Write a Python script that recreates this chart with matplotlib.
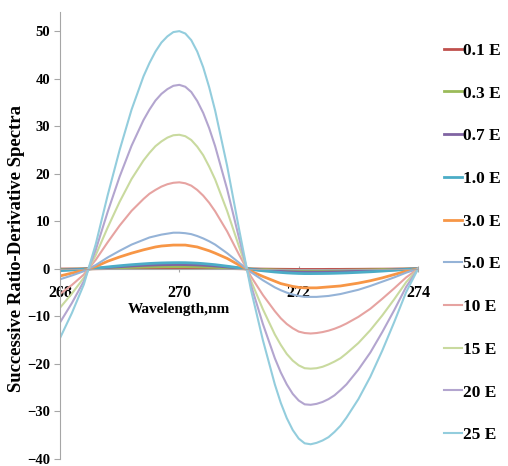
import matplotlib
matplotlib.use('Agg')
import matplotlib.pyplot as plt

# wavelengths (nm), denser around the extremes
wavelength = [268.0, 268.2, 268.4, 268.6, 268.8, 269.0, 269.2, 269.4,
              269.5, 269.6, 269.7, 269.8, 269.9, 270.0,
              270.1, 270.2, 270.3, 270.4, 270.5, 270.6,
              270.8, 271.0,
              271.2, 271.4, 271.6,
              271.7, 271.8, 271.9, 272.0, 272.1, 272.2, 272.3, 272.4, 272.5, 272.6, 272.7, 272.8,
              273.0, 273.2, 273.4, 273.6, 273.8, 274.0]

e_01 = [-0.04, -0.03, -0.01, 0.02, 0.05, 0.08, 0.10, 0.12,
        0.13, 0.14, 0.14, 0.15, 0.15, 0.15,
        0.15, 0.14, 0.14, 0.13, 0.11, 0.10,
        0.07, 0.03,
        -0.01, -0.05, -0.08,
        -0.09, -0.10, -0.11, -0.12, -0.12, -0.12, -0.12, -0.12, -0.11, -0.11, -0.11, -0.10,
        -0.09, -0.07, -0.06, -0.04, -0.02, 0.0]
e_03 = [-0.13, -0.08, -0.03, 0.05, 0.14, 0.23, 0.30, 0.36,
        0.39, 0.41, 0.43, 0.44, 0.45, 0.45,
        0.45, 0.43, 0.41, 0.38, 0.34, 0.30,
        0.20, 0.08,
        -0.04, -0.14, -0.23,
        -0.27, -0.30, -0.32, -0.34, -0.35, -0.35, -0.35, -0.34, -0.34, -0.33, -0.31, -0.30,
        -0.26, -0.22, -0.16, -0.11, -0.05, 0.0]
e_07 = [-0.26, -0.17, -0.06, 0.09, 0.28, 0.45, 0.60, 0.73,
        0.78, 0.82, 0.86, 0.88, 0.90, 0.90,
        0.89, 0.86, 0.82, 0.76, 0.69, 0.60,
        0.39, 0.15,
        -0.08, -0.28, -0.46,
        -0.53, -0.60, -0.64, -0.68, -0.70, -0.70, -0.70, -0.69, -0.67, -0.65, -0.63, -0.59,
        -0.52, -0.43, -0.33, -0.21, -0.09, 0.0]
e_10 = [-0.38, -0.24, -0.09, 0.14, 0.40, 0.65, 0.87, 1.05,
        1.13, 1.19, 1.24, 1.27, 1.29, 1.30,
        1.29, 1.25, 1.19, 1.10, 0.99, 0.87,
        0.56, 0.22,
        -0.12, -0.41, -0.66,
        -0.76, -0.85, -0.92, -0.97, -1.00, -1.00, -0.99, -0.98, -0.96, -0.93, -0.89, -0.85,
        -0.74, -0.62, -0.47, -0.30, -0.13, 0.0]
e_30 = [-1.5, -0.9, -0.3, 0.5, 1.6, 2.5, 3.3, 4.0,
        4.3, 4.6, 4.8, 4.9, 5.0, 5.0,
        5.0, 4.8, 4.6, 4.2, 3.8, 3.3,
        2.2, 0.8,
        -0.5, -1.6, -2.6,
        -3.1, -3.4, -3.7, -3.9, -4.0, -4.0, -4.0, -3.9, -3.8, -3.7, -3.6, -3.4,
        -3.0, -2.5, -1.9, -1.2, -0.5, 0.0]
e_50 = [-2.2, -1.4, -0.5, 0.8, 2.4, 3.8, 5.1, 6.1,
        6.6, 6.9, 7.2, 7.4, 7.6, 7.6,
        7.5, 7.3, 6.9, 6.4, 5.8, 5.1,
        3.3, 1.3,
        -0.7, -2.4, -3.9,
        -4.5, -5.0, -5.4, -5.7, -5.9, -5.9, -5.9, -5.8, -5.7, -5.5, -5.3, -5.0,
        -4.4, -3.6, -2.7, -1.8, -0.8, 0.0]
e_100 = [-5.3, -3.4, -1.2, 1.9, 5.6, 9.1, 12.2, 14.7,
         15.8, 16.6, 17.3, 17.8, 18.1, 18.2,
         18.0, 17.5, 16.6, 15.4, 13.9, 12.1,
         7.9, 3.0,
         -1.6, -5.5, -8.9,
         -10.4, -11.6, -12.5, -13.2, -13.5, -13.6, -13.5, -13.3, -13.0, -12.6, -12.1, -11.5,
         -10.1, -8.4, -6.3, -4.1, -1.8, 0.0]
e_150 = [-8.2, -5.2, -1.9, 2.9, 8.7, 14.1, 18.9, 22.8,
         24.4, 25.8, 26.8, 27.6, 28.1, 28.2,
         27.9, 27.1, 25.7, 23.9, 21.5, 18.8,
         12.2, 4.7,
         -2.5, -8.5, -13.8,
         -16.0, -17.9, -19.3, -20.3, -20.9, -21.0, -20.9, -20.6, -20.1, -19.5, -18.8, -17.8,
         -15.6, -12.9, -9.8, -6.4, -2.8, 0.0]
e_200 = [-11.3, -7.2, -2.6, 4.0, 12.0, 19.4, 25.9, 31.3,
         33.5, 35.4, 36.8, 37.8, 38.5, 38.7,
         38.3, 37.2, 35.3, 32.8, 29.6, 25.8,
         16.8, 6.5,
         -3.4, -11.6, -18.8,
         -21.8, -24.3, -26.3, -27.7, -28.5, -28.6, -28.4, -28.0, -27.4, -26.6, -25.5, -24.3,
         -21.2, -17.6, -13.3, -8.7, -3.8, 0.0]
e_250 = [-14.6, -9.3, -3.3, 5.2, 15.5, 25.0, 33.5, 40.5,
         43.3, 45.7, 47.6, 48.9, 49.8, 50.0,
         49.5, 48.1, 45.7, 42.4, 38.2, 33.3,
         21.7, 8.4,
         -4.4, -15.0, -24.3,
         -28.2, -31.4, -33.9, -35.7, -36.7, -36.9, -36.6, -36.1, -35.4, -34.3, -33.0, -31.3,
         -27.4, -22.7, -17.2, -11.2, -4.9, 0.0]

labels = ['0.1 E', '0.3 E', '0.7 E', '1.0 E', '3.0 E', '5.0 E', '10 E', '15 E', '20 E', '25 E']
series = [e_01, e_03, e_07, e_10, e_30, e_50, e_100, e_150, e_200, e_250]
colors = ['#C0504D', '#9BBB59', '#8064A2', '#4BACC6', '#F79646',
          '#95B3D7', '#E6A3A1', '#C9DA9F', '#B3A5CF', '#93CDDD']
widths = [2.0, 2.0, 2.0, 2.0, 2.0, 1.5, 1.5, 1.5, 1.5, 1.5]

serif = ['Liberation Serif', 'DejaVu Serif']

fig = plt.figure(figsize=(5.08, 4.66), dpi=100)
ax = fig.add_axes([0.118, 0.015, 0.705, 0.959])

for y, lab, c, w in zip(series, labels, colors, widths):
    ax.plot(wavelength, y, color=c, lw=w, label=lab)

ax.set_xlim(268, 274)
ax.set_ylim(-40, 54)
ax.set_xticks([268, 270, 272, 274])
ax.set_yticks(range(-40, 51, 10))

for s in ['top', 'right']:
    ax.spines[s].set_visible(False)
ax.spines['bottom'].set_position(('data', 0))
ax.spines['bottom'].set_color('#A6A6A6')
ax.spines['left'].set_color('#A6A6A6')
ax.tick_params(axis='y', direction='out', length=4, color='#A6A6A6', pad=3)
ax.tick_params(axis='x', direction='inout', length=5, color='#A6A6A6', pad=9)

for t in ax.get_yticklabels():
    t.set_fontfamily(serif)
    t.set_fontweight('bold')
    t.set_fontsize(10.5)
for t in ax.get_xticklabels():
    t.set_fontfamily(serif)
    t.set_fontweight('bold')
    t.set_fontsize(11.5)

ax.text(270, -8.6, 'Wavelength,nm', ha='center', va='center',
        family=serif, weight='bold', fontsize=11)
fig.text(0.033, 0.466, 'Successive Ratio-Derivative Spectra', rotation=90,
         ha='center', va='center', family=serif, weight='bold', fontsize=13.5)

leg = fig.legend(loc='upper left', bbox_to_anchor=(0.843, 0.942), frameon=False,
                 handlelength=1.05, handletextpad=0.05, labelspacing=1.53,
                 prop={'family': serif, 'weight': 'bold', 'size': 12.5})

fig.savefig('out.png', dpi=100)
